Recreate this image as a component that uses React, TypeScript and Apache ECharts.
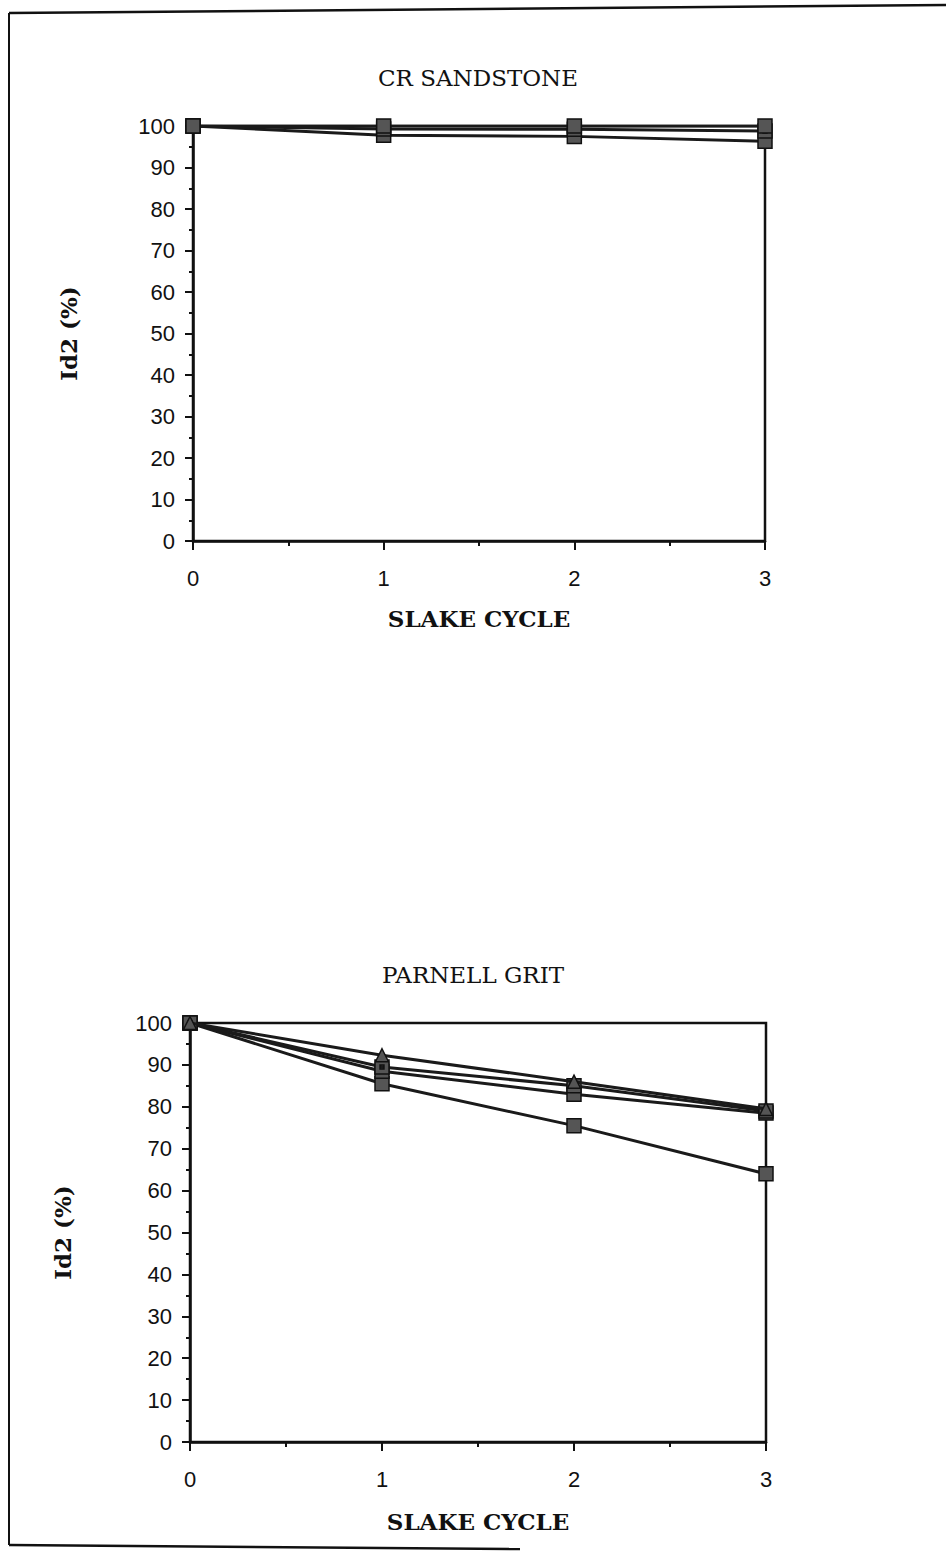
import React, { useEffect, useRef } from "react";
import * as echarts from "echarts";

const cycles = [0, 1, 2, 3];
const xTickLabels = ["0", "1", "2", "3"];

// CR SANDSTONE
const crSquareTop = [100, 100, 100, 100];
const crDotted = [100, 99.3, 99.2, 98.8];
const crSquareLow = [100, 97.8, 97.5, 96.3];

// PARNELL GRIT
const pgTriangle = [100, 92.3, 86, 79.5];
const pgDotted = [100, 89.5, 85, 79];
const pgSquare = [100, 88.5, 83, 78.5];
const pgLow = [100, 85.5, 75.5, 64];

const titles = ["CR SANDSTONE", "PARNELL GRIT"];
const xName = "SLAKE CYCLE";
const yName = "Id2 (%)";

const SQUARE_DOT = "path://M0,0L10,0L10,10L0,10Z M3.6,3.6L3.6,6.4L6.4,6.4L6.4,3.6Z";

const lineColor = "#1a1a1a";
const markFill = "#555555";

function pts(arr: number[]) {
  return cycles.map((c, i) => [c, arr[i]]);
}

function mkSeries(arr: number[], grid: number, symbol: string, size: number, z = 2) {
  return {
    type: "line",
    xAxisIndex: grid,
    yAxisIndex: grid,
    data: pts(arr),
    symbol,
    symbolSize: size,
    showSymbol: true,
    z,
    lineStyle: { color: lineColor, width: 3 },
    itemStyle: { color: markFill, borderColor: "#111", borderWidth: 1.5, opacity: 1 },
    emphasis: { disabled: true },
  };
}

function xAxis(grid: number, gap: number) {
  return {
    type: "value",
    gridIndex: grid,
    min: 0,
    max: 3,
    interval: 1,
    name: xName,
    nameLocation: "middle",
    nameGap: gap,
    nameTextStyle: {
      fontFamily: "DejaVu Serif",
      fontWeight: "bold",
      fontSize: 23,
      color: "#111",
    },
    axisLine: { show: true, onZero: false, lineStyle: { color: "#111", width: 2.5 } },
    axisTick: { show: true, inside: false, length: 9, lineStyle: { color: "#111", width: 2 } },
    minorTick: { show: true, splitNumber: 2, length: 5, lineStyle: { color: "#111", width: 2 } },
    splitLine: { show: false },
    axisLabel: {
      margin: 26,
      fontFamily: "Liberation Sans",
      fontSize: 22,
      color: "#111",
      formatter: (v: number) => xTickLabels[Math.round(v)] ?? "",
    },
  };
}

function yAxis(grid: number, gap: number) {
  return {
    type: "value",
    gridIndex: grid,
    min: 0,
    max: 100,
    interval: 10,
    name: yName,
    nameLocation: "middle",
    nameGap: gap,
    nameRotate: 90,
    nameTextStyle: {
      fontFamily: "DejaVu Serif",
      fontWeight: "bold",
      fontSize: 23,
      color: "#111",
    },
    axisLine: { show: true, onZero: false, lineStyle: { color: "#111", width: 2.5 } },
    axisTick: { show: true, inside: false, length: 8, lineStyle: { color: "#111", width: 2 } },
    minorTick: { show: true, splitNumber: 2, length: 4, lineStyle: { color: "#111", width: 2 } },
    splitLine: { show: false },
    axisLabel: {
      margin: 18,
      fontFamily: "Liberation Sans",
      fontSize: 22,
      color: "#111",
    },
  };
}

export default function App() {
  const ref = useRef<HTMLDivElement>(null);
  useEffect(() => {
    if (!ref.current) return;
    const chart = echarts.init(ref.current, null, { renderer: "svg" });
    const titleStyle = { fontFamily: "DejaVu Serif", fontWeight: "normal", fontSize: 23, color: "#111" };
    const option: any = {
      animation: false,
      backgroundColor: "#ffffff",
      title: [
        { text: titles[0], left: 473, top: 61, textAlign: "center", textStyle: titleStyle },
        { text: titles[1], left: 468, top: 958, textAlign: "center", textStyle: titleStyle },
      ],
      grid: [
        { left: 193, right: 181, top: 126, height: 415, show: true, borderColor: "#111", borderWidth: 2.5, backgroundColor: "transparent" },
        { left: 190, right: 180, top: 1023, height: 419, show: true, borderColor: "#111", borderWidth: 2.5, backgroundColor: "transparent" },
      ],
      xAxis: [xAxis(0, 66), xAxis(1, 68)],
      yAxis: [yAxis(0, 113), yAxis(1, 116)],
      series: [
        mkSeries(crSquareLow, 0, "rect", 14, 3),
        mkSeries(crDotted, 0, SQUARE_DOT, 14, 4),
        mkSeries(crSquareTop, 0, "rect", 14, 5),
        mkSeries(pgLow, 1, "rect", 14, 3),
        mkSeries(pgSquare, 1, "rect", 14, 4),
        mkSeries(pgDotted, 1, SQUARE_DOT, 14, 5),
        mkSeries(pgTriangle, 1, "triangle", 13, 6),
      ],
      graphic: [
        { type: "line", shape: { x1: 9, y1: 13, x2: 9, y2: 1545 }, style: { stroke: "#111", lineWidth: 2 } },
        { type: "line", shape: { x1: 9, y1: 13, x2: 946, y2: 5 }, style: { stroke: "#111", lineWidth: 2.5 } },
        { type: "line", shape: { x1: 9, y1: 1545, x2: 520, y2: 1549 }, style: { stroke: "#111", lineWidth: 2.5 } },
      ],
    };
    chart.setOption(option);
    return () => chart.dispose();
  }, []);
  return (
    <div
      ref={ref}
      style={{ position: "absolute", left: 0, top: 0, width: 946, height: 1553, background: "#fff" }}
    />
  );
}
